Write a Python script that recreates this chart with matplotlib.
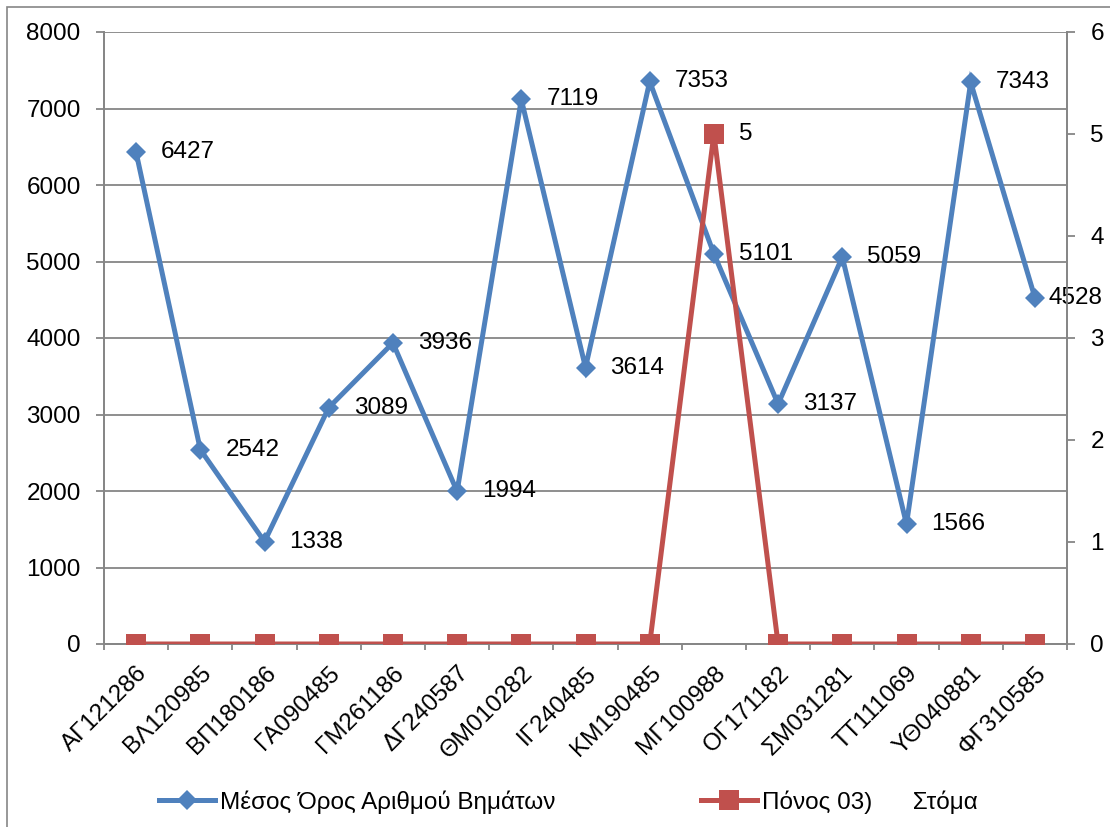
import matplotlib
matplotlib.use("Agg")
import matplotlib.pyplot as plt
from matplotlib.lines import Line2D
from matplotlib.patches import Rectangle

plt.rcParams['font.family'] = ['Liberation Sans', 'DejaVu Sans']

categories = ["ΑΓ121286", "ΒΛ120985", "ΒΠ180186", "ΓΑ090485", "ΓΜ261186",
              "ΔΓ240587", "ΘΜ010282", "ΙΓ240485", "ΚΜ190485", "ΜΓ100988",
              "ΟΓ171182", "ΣΜ031281", "ΤΤ111069", "ΥΘ040881", "ΦΓ310585"]
steps = [6427, 2542, 1338, 3089, 3936, 1994, 7119, 3614, 7353, 5101,
         3137, 5059, 1566, 7343, 4528]
pain = [0, 0, 0, 0, 0, 0, 0, 0, 0, 5, 0, 0, 0, 0, 0]

steps_label = "Μέσος Όρος Αριθμού Βημάτων"
pain_label = "Πόνος 03)      Στόμα"

left_ticks = [0, 1000, 2000, 3000, 4000, 5000, 6000, 7000, 8000]
right_ticks = [0, 1, 2, 3, 4, 5, 6]

BLUE = "#4F81BD"
RED = "#C0504D"
GRID = "#868686"
FS = 17.5

W, H = 1110, 827
fig = plt.figure(figsize=(W / 100, H / 100), dpi=100)
fig.patches.append(Rectangle((7 / W, -0.1), 1.2, 1 - 7 / H + 0.1,
                             transform=fig.transFigure, fill=False,
                             edgecolor=GRID, linewidth=1.2))

ax = fig.add_axes([104 / W, 1 - 644 / H, (1067 - 104) / W, (644 - 32) / H])
ax2 = ax.twinx()

x = list(range(len(categories)))

ax.plot(x, steps, color=BLUE, lw=3.6, marker="D", ms=10.5,
        markeredgewidth=0, zorder=3, solid_joinstyle="miter")
ax2.plot(x, pain, color=RED, lw=3.6, marker="s", ms=14,
         markeredgewidth=0, zorder=3, solid_joinstyle="miter")

ax.set_ylim(0, 8000)
ax2.set_ylim(0, 6)
ax.set_xlim(-0.5, len(categories) - 0.5)

ax.set_yticks(left_ticks)
ax.set_yticklabels([str(t) for t in left_ticks])
ax2.set_yticks(right_ticks)
ax2.set_yticklabels([str(t) for t in right_ticks])

ax.yaxis.grid(True, color=GRID, lw=1.3)
ax.set_axisbelow(True)

# Category ticks sit between categories; labels sit at the centers
ax.set_xticks([i + 0.5 for i in range(-1, len(categories))])
ax.set_xticklabels([])
ax.set_xticks(x, minor=True)
ax.set_xticklabels(categories, minor=True, rotation=45, ha="right",
                   rotation_mode="anchor", fontsize=FS)
ax.tick_params(axis="x", which="major", length=4.5, color=GRID, width=1.3,
               direction="out")
ax.tick_params(axis="x", which="minor", length=0, pad=13)

ax.tick_params(axis="y", length=5.8, color=GRID, width=1.3, labelsize=FS,
               pad=11)
ax2.tick_params(axis="y", length=5.8, color=GRID, width=1.3, labelsize=FS,
                pad=11)

for a in (ax, ax2):
    a.spines["top"].set_visible(False)
    for s in ("left", "right", "bottom"):
        a.spines[s].set_color(GRID)
        a.spines[s].set_linewidth(1.3)

# Value labels beside each point
for i, v in enumerate(steps):
    dx = 14 if i == len(steps) - 1 else 25
    ax.annotate(str(v), (i, v), xytext=(dx * 0.72, 0), textcoords="offset points",
                ha="left", va="center", fontsize=FS, zorder=5)
for i, v in enumerate(pain):
    if v:
        ax2.annotate(str(v), (i, v), xytext=(25 * 0.72, 0), textcoords="offset points",
                     ha="left", va="center", fontsize=FS, zorder=5)

h1 = Line2D([], [], color=BLUE, lw=3.6, marker="D", ms=10.5, markeredgewidth=0)
h2 = Line2D([], [], color=RED, lw=3.6, marker="s", ms=14, markeredgewidth=0)
fig.legend([h1], [steps_label], loc="center left",
           bbox_to_anchor=(159 / W, 1 - 802 / H), frameon=False,
           fontsize=FS, handlelength=2.3, handletextpad=0.2,
           borderpad=0, borderaxespad=0)
fig.legend([h2], [pain_label], loc="center left",
           bbox_to_anchor=(701 / W, 1 - 802 / H), frameon=False,
           fontsize=FS, handlelength=2.3, handletextpad=0.2,
           borderpad=0, borderaxespad=0)

fig.savefig("out.png", dpi=100)
